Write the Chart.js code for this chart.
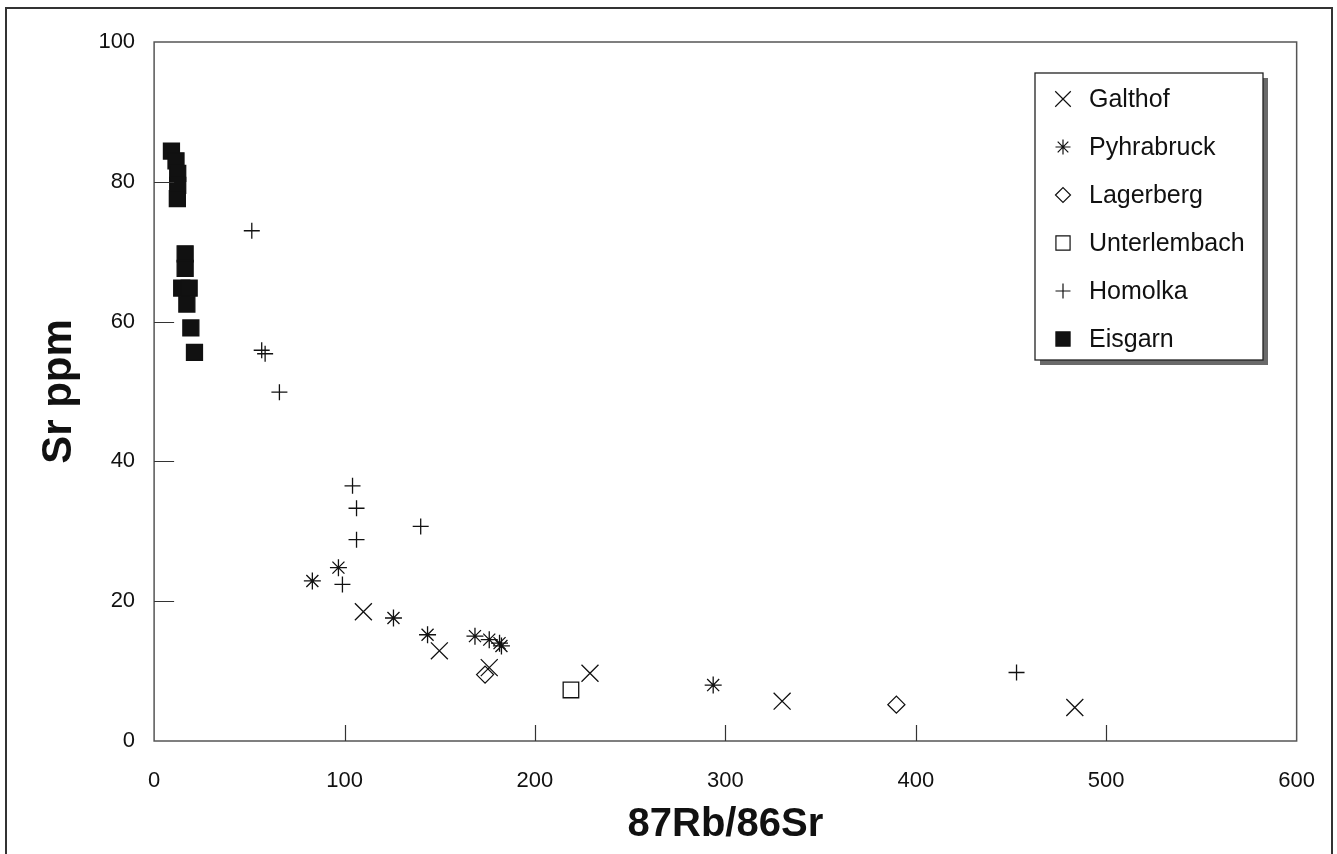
<!DOCTYPE html>
<html lang="de">
<head>
    <meta charset="UTF-8" />
    <title>Sr ppm vs 87Rb/86Sr</title>
    <script src="https://cdn.jsdelivr.net/npm/chart.js@4.4.1/dist/chart.umd.min.js"></script>
    <style>
        html, body {
            margin: 0;
            padding: 0;
            background: #ffffff;
        }
        #wrap {
            position: relative;
            width: 1337px;
            height: 854px;
        }
    </style>
</head>
<body>
    <div id="wrap"><canvas id="chart"></canvas></div>

    <script>
        // === Data ===
        const X_TICKS = [0, 100, 200, 300, 400, 500, 600];
        const Y_TICKS = [0, 20, 40, 60, 80, 100];

        const galthofX = [109.9, 149.8, 176.0, 228.9, 329.8, 483.5];
        const galthofY = [18.5, 12.9, 10.5, 9.7, 5.7, 4.8];

        const pyhrabruckX = [83.1, 96.8, 125.7, 143.6, 168.5, 176.0, 181.4, 182.4, 293.6];
        const pyhrabruckY = [22.9, 24.8, 17.6, 15.2, 15.0, 14.5, 14.0, 13.6, 8.0];

        const lagerbergX = [173.8, 389.8];
        const lagerbergY = [9.5, 5.2];

        const unterlembachX = [218.9];
        const unterlembachY = [7.3];

        const homolkaX = [51.3, 56.5, 58.3, 65.8, 98.9, 104.2, 106.3, 106.3, 140.0, 452.9];
        const homolkaY = [73.0, 55.9, 55.4, 49.9, 22.4, 36.5, 33.3, 28.8, 30.7, 9.8];

        const eisgarnX = [9.1, 11.5, 12.4, 12.4, 12.2, 16.3, 16.3, 14.5, 18.4, 17.2, 19.3, 21.2];
        const eisgarnY = [84.4, 83.0, 81.2, 79.5, 77.6, 69.7, 67.6, 64.8, 64.8, 62.5, 59.1, 55.6];

        const INK = "#111111";
        const FONT = "'Liberation Sans', Arial, sans-serif";

        function points(xs, ys) {
            return xs.map((x, i) => ({ x: x, y: ys[i] }));
        }

        function series(label, xs, ys, style, radius, filled) {
            return {
                label: label,
                data: points(xs, ys),
                pointStyle: style,
                pointRadius: radius,
                pointHoverRadius: radius,
                pointBorderWidth: 1.3,
                pointBorderColor: INK,
                pointBackgroundColor: filled ? INK : "rgba(0,0,0,0)",
                showLine: false
            };
        }

        const datasets = [
            series("Galthof", galthofX, galthofY, "crossRot", 12, false),
            series("Pyhrabruck", pyhrabruckX, pyhrabruckY, "star", 8.5, false),
            series("Lagerberg", lagerbergX, lagerbergY, "rectRot", 8.5, false),
            series("Unterlembach", unterlembachX, unterlembachY, "rect", 11, false),
            series("Homolka", homolkaX, homolkaY, "cross", 8, false),
            series("Eisgarn", eisgarnX, eisgarnY, "rect", 11.3, true)
        ];

        // frame, plot box, inward tick marks and the boxed legend
        const decorations = {
            id: "decorations",
            beforeDraw(chart) {
                const ctx = chart.ctx;
                ctx.save();
                ctx.fillStyle = "#ffffff";
                ctx.fillRect(0, 0, chart.width, chart.height);
                ctx.strokeStyle = "#333";
                ctx.lineWidth = 2;
                ctx.strokeRect(6, 8, 1326, 860);
                ctx.restore();
            },
            afterDatasetsDraw(chart) {
                const ctx = chart.ctx;
                const area = chart.chartArea;
                const xs = chart.scales.x;
                const ys = chart.scales.y;
                ctx.save();

                // plot box
                ctx.strokeStyle = "#555";
                ctx.lineWidth = 1.5;
                ctx.strokeRect(area.left, area.top, area.right - area.left, area.bottom - area.top);

                // inward ticks
                ctx.strokeStyle = "#333";
                ctx.lineWidth = 1.2;
                ctx.beginPath();
                X_TICKS.slice(1, -1).forEach((v) => {
                    const px = Math.round(xs.getPixelForValue(v)) + 0.5;
                    ctx.moveTo(px, area.bottom);
                    ctx.lineTo(px, area.bottom - 16);
                });
                Y_TICKS.slice(1, -1).forEach((v) => {
                    const py = Math.round(ys.getPixelForValue(v)) + 0.5;
                    ctx.moveTo(area.left, py);
                    ctx.lineTo(area.left + 20, py);
                });
                ctx.stroke();

                // legend box with shadow
                const lx = 1035, ly = 73, lw = 228, lh = 287;
                ctx.fillStyle = "#6a6a6a";
                ctx.fillRect(lx + 5, ly + 5, lw, lh);
                ctx.fillStyle = "#ffffff";
                ctx.fillRect(lx, ly, lw, lh);
                ctx.strokeStyle = "#222";
                ctx.lineWidth = 1.3;
                ctx.strokeRect(lx, ly, lw, lh);

                ctx.font = "25px " + FONT;
                ctx.textBaseline = "middle";
                ctx.textAlign = "left";
                chart.data.datasets.forEach((ds, i) => {
                    const cy = ly + 26 + i * 48;
                    const r = ds.pointStyle === "crossRot" ? 11 : (ds.pointRadius > 10 ? 10 : 7.5);
                    ctx.strokeStyle = INK;
                    ctx.fillStyle = ds.pointBackgroundColor;
                    ctx.lineWidth = 1.2;
                    Chart.helpers.drawPoint(ctx, {
                        pointStyle: ds.pointStyle,
                        radius: r,
                        rotation: 0,
                        borderWidth: 1.2
                    }, lx + 28, cy);
                    ctx.fillStyle = INK;
                    ctx.fillText(ds.label, lx + 54, cy + 1);
                });
                ctx.restore();
            }
        };

        new Chart(document.getElementById("chart"), {
            type: "scatter",
            data: { datasets: datasets },
            options: {
                responsive: true,
                maintainAspectRatio: false,
                animation: false,
                events: [],
                layout: {
                    padding: { left: 24, right: 35, top: 42, bottom: 4 }
                },
                plugins: {
                    legend: { display: false },
                    tooltip: { enabled: false }
                },
                scales: {
                    x: {
                        type: "linear",
                        min: 0,
                        max: 600,
                        grid: { display: false, drawTicks: false },
                        border: { display: false },
                        afterBuildTicks: (axis) => {
                            axis.ticks = X_TICKS.map((v) => ({ value: v }));
                        },
                        ticks: { padding: 22, color: INK, font: { family: FONT, size: 22, lineHeight: "35px" } },
                        title: {
                            display: true,
                            text: "87Rb/86Sr",
                            color: INK,
                            padding: { top: -19, bottom: 1 },
                            font: { family: FONT, size: 40, weight: "bold" }
                        }
                    },
                    y: {
                        type: "linear",
                        min: 0,
                        max: 100,
                        grid: { display: false, drawTicks: false },
                        border: { display: false },
                        afterBuildTicks: (axis) => {
                            axis.ticks = Y_TICKS.map((v) => ({ value: v }));
                        },
                        ticks: { padding: 19, color: INK, font: { family: FONT, size: 22 } },
                        title: {
                            display: true,
                            text: "Sr ppm",
                            color: INK,
                            padding: { top: 10, bottom: -5 },
                            font: { family: FONT, size: 42, weight: "bold" }
                        }
                    }
                }
            },
            plugins: [decorations]
        });
    </script>
</body>
</html>
